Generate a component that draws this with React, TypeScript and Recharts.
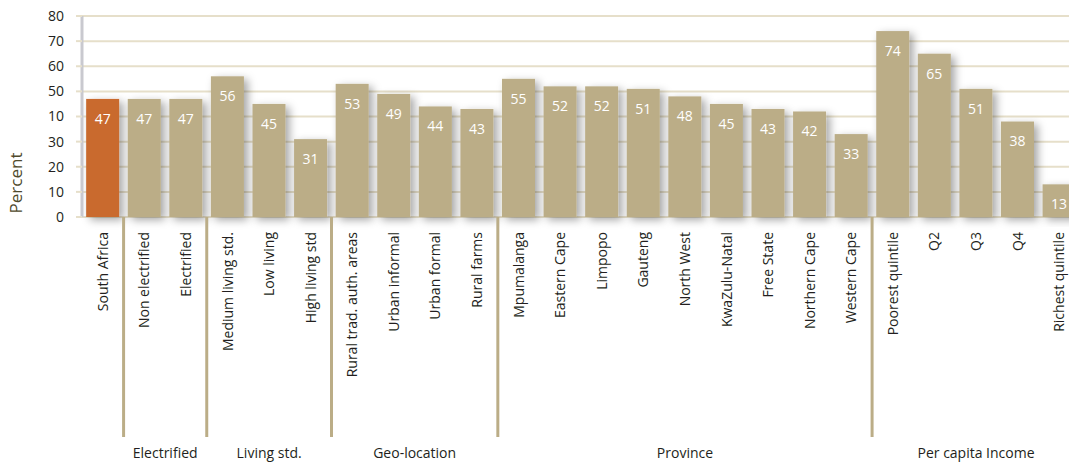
import { BarChart, Bar, XAxis, YAxis, CartesianGrid, Cell, LabelList } from 'recharts';

const categories = [
  'South Africa',
  'Non electrified', 'Electrified',
  'Medium living std.', 'Low living', 'High living std',
  'Rural trad. auth. areas', 'Urban informal', 'Urban formal', 'Rural farms',
  'Mpumalanga', 'Eastern Cape', 'Limpopo', 'Gauteng', 'North West', 'KwaZulu-Natal', 'Free State', 'Northern Cape', 'Western Cape',
  'Poorest quintile', 'Q2', 'Q3', 'Q4', 'Richest quintile',
];
const percent = [47, 47, 47, 56, 45, 31, 53, 49, 44, 43, 55, 52, 52, 51, 48, 45, 43, 42, 33, 74, 65, 51, 38, 13];

const groupNames = ['', 'Electrified', 'Living std.', 'Geo-location', 'Province', 'Per capita Income'];
const groupSizes = [1, 2, 3, 4, 9, 5];

const yTicks = [0, 10, 20, 30, 40, 50, 60, 70, 80];
// the source chart prints "10" at the 40 line
const yTickLabels = ['0', '10', '20', '30', '10', '50', '60', '70', '80'];

const TAN = '#bbad87';
const ORANGE = '#c96a2f';
const FONT = '"Open Sans", sans-serif';

const chartData = categories.map((name, i) => ({ name, value: percent[i] }));

// start index of each group
const groupStarts: number[] = [];
groupSizes.reduce((acc, n) => { groupStarts.push(acc); return acc + n; }, 0);

const CategoryTick = (props: any) => {
  const { x, y, index, payload, width, visibleTicksCount } = props;
  const bw = width / visibleTicksCount;
  const g = groupStarts.indexOf(index);
  const parts = [];
  if (g > 0) {
    parts.push(<line key="sep" x1={-bw / 2} x2={-bw / 2} y1={0} y2={220} stroke={TAN} strokeWidth={3} />);
    const mid = (groupSizes[g] - 1) / 2;
    parts.push(
      <text key="grp" x={mid * bw} y={241} textAnchor="middle" fontSize={14} fill="#231f20" fontFamily={FONT}>
        {groupNames[g]}
      </text>
    );
  }
  return (
    <g transform={`translate(${x},${y})`}>
      {parts}
      <text transform="rotate(-90)" x={-15} y={0} dy={5} textAnchor="end" fontSize={14} fill="#231f20" fontFamily={FONT}>
        {payload.value}
      </text>
    </g>
  );
};

const BarShape = (p: any) => (
  <rect x={p.x} y={p.y} width={p.width} height={p.height} fill={p.fill} filter="url(#barShadow)" />
);

const PercentLabel = ({ viewBox }: any) => (
  <text
    transform={`translate(${viewBox.x + 22},${viewBox.y + viewBox.height - 34}) rotate(-90)`}
    textAnchor="middle" fontSize={17} fill="#4f4a2c" fontFamily={FONT}
  >
    Percent
  </text>
);

const App = () => {
  return (
    <div style={{ position: 'fixed', left: 0, top: 0, width: 1069, height: 463, overflow: 'hidden', background: '#fff' }}>
      <svg width={0} height={0} style={{ position: 'absolute' }}>
        <defs>
          <filter id="barShadow" x="-30%" y="-20%" width="170%" height="150%">
            <feDropShadow dx="4" dy="3" stdDeviation="4" floodColor="#000" floodOpacity="0.35" />
          </filter>
        </defs>
      </svg>
      <BarChart
        width={1080}
        height={463}
        data={chartData}
        margin={{ top: 16, right: 0, bottom: 0, left: 0 }}
        barCategoryGap="10%"
      >
        <CartesianGrid vertical={false} stroke="#e6dfca" strokeWidth={2} />
        <XAxis
          dataKey="name"
          interval={0}
          height={246}
          axisLine={false}
          tickLine={false}
          tickSize={0}
          tickMargin={0}
          tick={<CategoryTick />}
        />
        <YAxis
          width={82}
          domain={[0, 80]}
          ticks={yTicks}
          tickFormatter={(v: number) => yTickLabels[yTicks.indexOf(v)]}
          axisLine={{ stroke: '#c9c9cf', strokeWidth: 3 }}
          tickLine={{ stroke: '#e6dfca', strokeWidth: 2 }}
          tickSize={6}
          tickMargin={12}
          tick={{ fontSize: 14, fill: '#231f20', fontFamily: FONT }}
          label={<PercentLabel />}
        />
        <Bar dataKey="value" isAnimationActive={false} shape={<BarShape />}>
          {chartData.map((_, i) => (
            <Cell key={i} fill={i === 0 ? ORANGE : TAN} />
          ))}
          <LabelList dataKey="value" position="insideTop" offset={15} fill="#ffffff" fontSize={14} fontFamily={FONT} />
        </Bar>
      </BarChart>
    </div>
  );
};

export default App;
